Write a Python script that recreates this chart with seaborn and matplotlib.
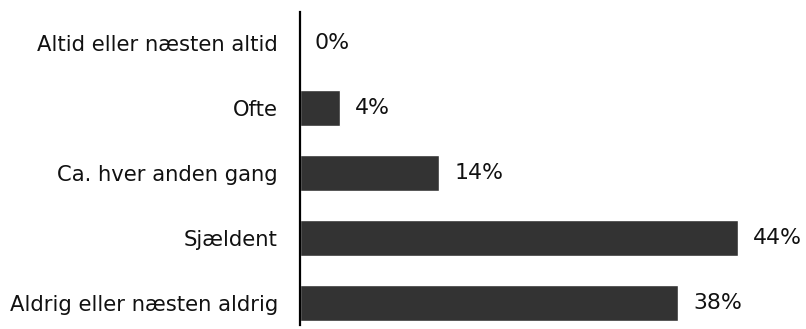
import matplotlib
matplotlib.use("Agg")
import matplotlib.pyplot as plt
import seaborn as sns
import pandas as pd

categories = [
    "Altid eller næsten altid",
    "Ofte",
    "Ca. hver anden gang",
    "Sjældent",
    "Aldrig eller næsten aldrig",
]
shares = [0, 4, 14, 44, 38]

df = pd.DataFrame({"kategori": categories, "andel": shares})

sns.set_theme(style="white")
plt.rcParams["font.family"] = ["DejaVu Sans"]

fig = plt.figure(figsize=(8.06, 3.29), dpi=100)
ax = fig.add_axes([300 / 806, 4 / 329, 506 / 806, 313 / 329])

sns.barplot(data=df, x="andel", y="kategori", orient="h", color="#333333",
            saturation=1, width=0.56, ax=ax)

ax.set_xlim(0, 506 / 9.955)
ax.set_ylim(4.338, -0.477)

for i, v in enumerate(shares):
    ax.text(v + 1.5, i, f"{v}%", va="center", ha="left", fontsize=15.8, color="#111111")

for side in ["top", "right", "bottom"]:
    ax.spines[side].set_visible(False)
ax.spines["left"].set_color("black")
ax.spines["left"].set_linewidth(1.6)
ax.set_xticks([])
ax.set_xlabel("")
ax.set_ylabel("")
ax.tick_params(axis="y", length=0, pad=16, labelsize=15.2, labelcolor="#111111")

fig.savefig("out.png", dpi=100)
